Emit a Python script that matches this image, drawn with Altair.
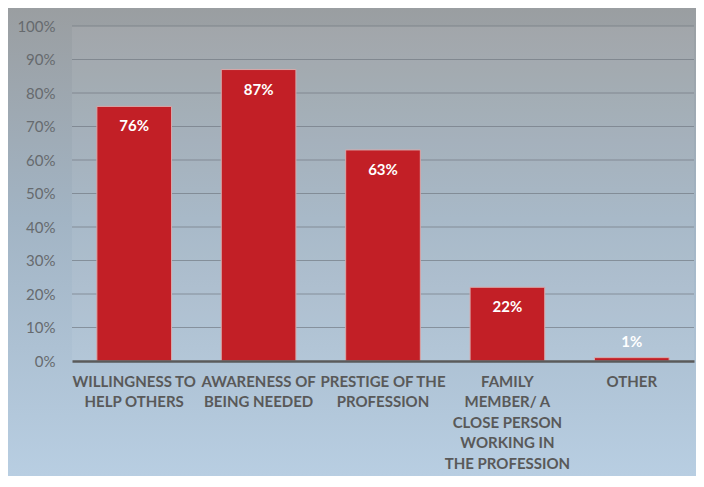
import altair as alt
import pandas as pd

categories = [
    "WILLINGNESS TO|HELP OTHERS",
    "AWARENESS OF|BEING NEEDED",
    "PRESTIGE OF THE|PROFESSION",
    "FAMILY|MEMBER/ A|CLOSE PERSON|WORKING IN|THE PROFESSION",
    "OTHER",
]
values = [0.76, 0.87, 0.63, 0.22, 0.01]
y_ticks = [0.0, 0.1, 0.2, 0.3, 0.4, 0.5, 0.6, 0.7, 0.8, 0.9, 1.0]

W, H = 622, 335
PL, PT, PR, PB = 64, 18, 2, 115

df = pd.DataFrame({"cat": categories, "value": values})
grid_df = pd.DataFrame({"t": y_ticks[1:]})

xaxis = alt.Axis(title=None, labelAngle=0, tickSize=0, labelPadding=13,
                 labelExpr="split(datum.label, '|')", labelLineHeight=20.6,
                 labelBaseline="top", labelFont="Lato", labelFontSize=15,
                 labelFontWeight="bold", labelColor="#595959",
                 domainColor="#5a5a5a", domainWidth=2.5, zindex=1,
                 labelLimit=200, labelOverlap=False)
xscale = alt.Scale(paddingInner=0.4, paddingOuter=0.2)
yaxis = alt.Axis(title=None, format="%", values=y_ticks, grid=False, domain=False,
                 ticks=False, labelPadding=17, labelFont="Lato", labelFontSize=15,
                 labelColor="#666a6e", zindex=1, labelOverlap=False, labelFlush=False)
yscale = alt.Scale(domain=[0, 1])

def xe():
    return alt.X("cat:N", sort=categories, scale=xscale, axis=xaxis)

bg = alt.Chart(alt.Data(values=[{"a": 1}])).mark_rect(
    color=alt.Gradient(gradient="linear", x1=0, x2=0, y1=0, y2=1,
                       stops=[alt.GradientStop(offset=0, color="#9a9ea1"),
                              alt.GradientStop(offset=0.45, color="#a2b4c4"),
                              alt.GradientStop(offset=1, color="#b8cee2")])
).encode(x=alt.value(-PL), x2=alt.value(W + PR), y=alt.value(-PT), y2=alt.value(H + PB))

plot_fill = alt.Chart(alt.Data(values=[{"a": 1}])).mark_rect(
    color="white", opacity=0.07
).encode(x=alt.value(0), x2=alt.value(W), y=alt.value(0), y2=alt.value(H))

grid = alt.Chart(grid_df).mark_rule(color="#6e7780", strokeWidth=1, opacity=0.65).encode(
    y=alt.Y("t:Q", scale=yscale, axis=yaxis), x=alt.value(0), x2=alt.value(W))

bars = alt.Chart(df).mark_bar(color="#c21f26", stroke="#d8a9ab", strokeWidth=1).encode(
    x=xe(),
    y=alt.Y("value:Q", scale=yscale, axis=yaxis),
)

lab_in = alt.Chart(df).transform_filter("datum.value >= 0.05").mark_text(
    baseline="top", dy=13, color="white", font="Lato", fontSize=15, fontWeight="bold"
).encode(x=xe(), y=alt.Y("value:Q", scale=yscale, axis=yaxis),
         text=alt.Text("value:Q", format=".0%"))

lab_out = alt.Chart(df).transform_filter("datum.value < 0.05").mark_text(
    baseline="bottom", dy=-8, color="white", font="Lato", fontSize=15, fontWeight="bold"
).encode(x=xe(), y=alt.Y("value:Q", scale=yscale, axis=yaxis),
         text=alt.Text("value:Q", format=".0%"))

chart = alt.layer(bg, plot_fill, grid, bars, lab_in, lab_out).properties(
    width=W, height=H,
    autosize=alt.AutoSizeParams(type="none"),
    padding={"left": PL, "top": PT, "right": PR, "bottom": PB},
).configure_view(stroke=None).configure(background="white")

chart.save("out.html", embed_options={"renderer": "svg", "actions": False})
